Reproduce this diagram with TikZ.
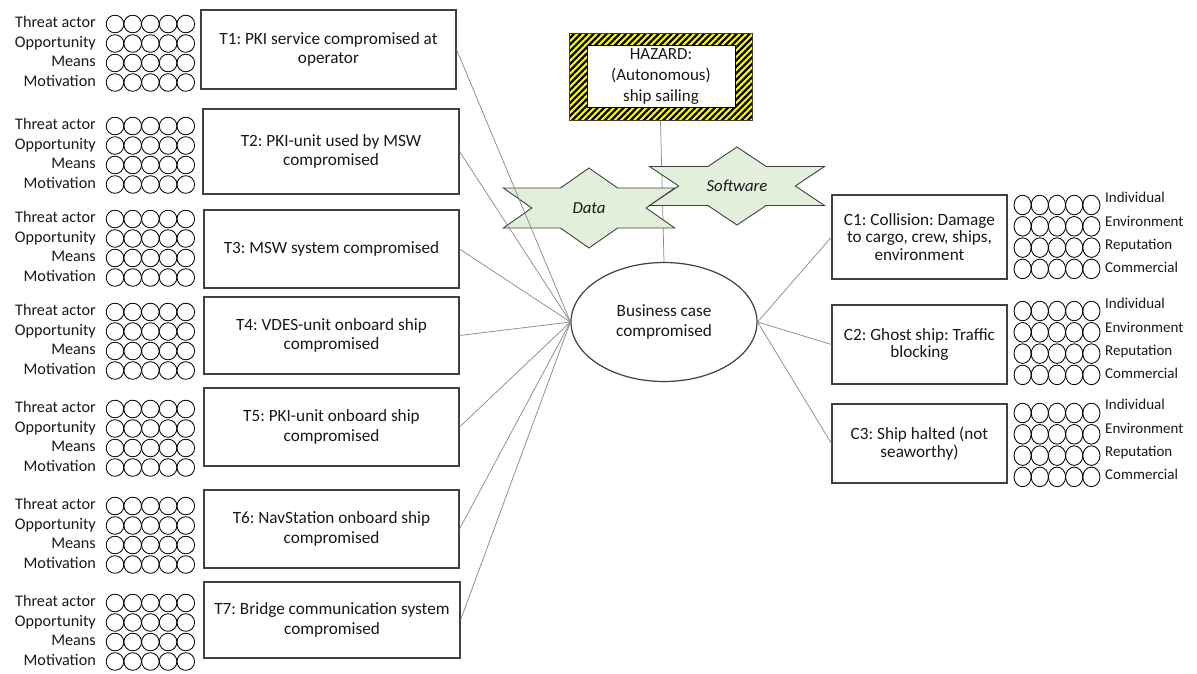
\documentclass[tikz,border=0pt]{standalone}
\usepackage{fontspec}
\setmainfont{Carlito}
\usetikzlibrary{shapes.geometric,patterns.meta}

\definecolor{edge}{RGB}{64,64,64}
\definecolor{connc}{RGB}{140,140,140}
\definecolor{starfill}{RGB}{226,239,218}
\definecolor{hazyellow}{RGB}{255,255,0}
\definecolor{ink}{RGB}{25,25,25}

\begin{document}
\frenchspacing
\begin{tikzpicture}[x=1pt,y=-1pt,
  txt/.style={text=ink, font=\fontsize{17.2}{19.5}\selectfont},
  tbox/.style={draw=edge, line width=1.1pt, fill=white, align=center, txt, inner sep=2pt},
  cbox/.style={tbox, font=\fontsize{17.2}{17.5}\selectfont},
  lab/.style={text=ink, font=\fontsize{16.2}{17}\selectfont, inner sep=0pt, text height=11pt, text depth=3.5pt},
  clab/.style={lab, font=\fontsize{15}{17}\selectfont},
  dot/.style={draw=black, line width=0.85pt, circle, inner sep=0pt, minimum size=17.6pt},
  odot/.style={draw=black, line width=0.85pt, ellipse, inner sep=0pt, minimum width=17.2pt, minimum height=19.6pt},
  conn/.style={draw=connc, line width=0.75pt},
  startext/.style={text=ink, font=\fontsize{16.8}{19}\selectfont\itshape, inner sep=0pt},
  starshape/.style={draw=edge, line width=0.9pt, fill=starfill, line join=miter},
]
\useasboundingbox (0,0) rectangle (1197,673);

% threat rating grids: labels and five circles per row
\foreach \g/\yy in {1/24,2/126,3/219,4/312,5/409,6/506,7/603} {
  \foreach \t [count=\r from 0] in {Threat actor,Opportunity,Means,Motivation} {
    \node[lab, anchor=east] (t\g-l\r) at (96,{\yy+19.5*\r}) {\t};
    \foreach \k in {0,...,4}
      \node[dot] (t\g-c\r\k) at ({115+17.7*\k},{\yy+19.5*\r}) {};
  }
}

% threat boxes
\node[tbox, minimum width=255, minimum height=79] (t1) at (328.5,49.5) {T1: PKI service compromised at\\operator};
\node[tbox, minimum width=256, minimum height=85] (t2) at (331,151.5) {T2: PKI-unit used by MSW\\compromised};
\node[tbox, minimum width=255, minimum height=78] (t3) at (331.5,249) {T3: MSW system compromised};
\node[tbox, minimum width=255, minimum height=77] (t4) at (331.5,335.5) {T4: VDES-unit onboard ship\\compromised};
\node[tbox, minimum width=255, minimum height=78] (t5) at (331.5,427) {T5: PKI-unit onboard ship\\compromised};
\node[tbox, minimum width=255, minimum height=78] (t6) at (331.5,529) {T6: NavStation onboard ship\\compromised};
\node[tbox, minimum width=256, minimum height=76] (t7) at (332,620) {T7: Bridge communication system\\compromised};

% consequence boxes
\node[cbox, minimum width=175, minimum height=84] (c1) at (919.5,237) {C1: Collision: Damage\\to cargo, crew, ships,\\environment};
\node[cbox, minimum width=175, minimum height=79] (c2) at (919.5,344.5) {C2: Ghost ship: Traffic\\blocking};
\node[cbox, minimum width=175, minimum height=79] (c3) at (919.5,443.5) {C3: Ship halted (not\\seaworthy)};

% consequence rating grids
\foreach \g/\yc/\yl in {1/205/199,2/311/305,3/413/406} {
  \foreach \t [count=\r from 0] in {Individual,Environment,Reputation,Commercial} {
    \node[clab, anchor=west] (c\g-l\r) at (1105,{\yl+23.3*\r}) {\t};
    \foreach \k in {0,...,4}
      \node[odot] (c\g-c\r\k) at ({1022.6+17.2*\k},{\yc+21.3*\r}) {};
  }
}

% central event
\node[draw=edge, line width=1.2pt, ellipse, minimum width=186, minimum height=119,
      align=center, txt, fill=white, inner sep=0pt] (bc) at (664,322) {Business case\\compromised};

% hazard with striped frame
\node[draw=edge, line width=0.8pt, preaction={fill=hazyellow},
      pattern={Lines[angle=45,distance=4.6pt,line width=2.3pt]}, pattern color=black,
      minimum width=183, minimum height=87, inner sep=0pt] (hzf) at (660.5,76.5) {};
\node[draw=black, line width=0.8pt, fill=white, minimum width=148, minimum height=62,
      align=center, inner sep=0pt, text=ink, font=\fontsize{17}{21}\selectfont] (hz) at (661,76.5) {HAZARD:\\(Autonomous)\\ship sailing};

\draw[conn] (hzf.south) -- (bc.north);

% six-pointed stars for the attack vectors
\coordinate (datac) at (589,208);
\coordinate (softc) at (737,186);
\foreach \c/\a/\b in {datac/99/40,softc/101/39}
  \draw[starshape, shift={(\c)}, xscale=\a, yscale=\b]
    (0,-1) -- (-0.2887,-0.5) -- (-0.866,-0.5) -- (-0.5774,0) -- (-0.866,0.5) -- (-0.2887,0.5)
    -- (0,1) -- (0.2887,0.5) -- (0.866,0.5) -- (0.5774,0) -- (0.866,-0.5) -- (0.2887,-0.5) -- cycle;
\node[startext] (data) at (datac) {Data};
\node[startext] (soft) at (softc) {Software};

% connectors
\foreach \i in {1,...,7}
  \draw[conn] (t\i.east) -- (bc.west);
\foreach \i in {1,2,3}
  \draw[conn] (bc.east) -- (c\i.west);
\end{tikzpicture}
\end{document}
